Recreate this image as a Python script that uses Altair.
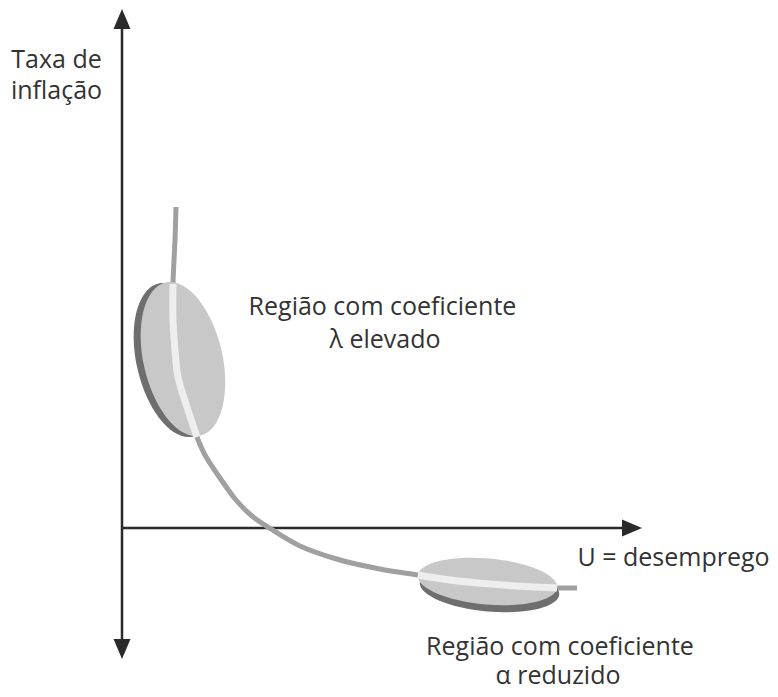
import altair as alt
import pandas as pd

# Diagram coordinates: u = unemployment (to the right), pi = inflation (up);
# origin is where the two axes cross.
curve_u = [54, 53, 51, 51, 53, 56, 65, 75, 83, 98, 114, 130, 149, 178, 218, 258, 296, 328, 368, 403, 435, 455]
curve_pi = [321, 288, 244, 208, 178, 151, 121, 91, 73, 50, 28, 12, -1, -18, -32, -41, -47, -52, -56, -58.5, -60, -60]
# part of the curve lying inside each highlighted region (index ranges into the curve)
band_ranges = [(2, 7), (16, 20)]

# centres of the two highlighted regions
region_u = [61, 365.5]
region_pi = [169, -53.5]

# axis arrow tips: up, down, right
tip_u = [0, 0, 520]
tip_pi = [519, -131, 0]

label_text = ["Taxa de", "inflação", "Região com coeficiente", "λ elevado",
              "U = desemprego", "Região com coeficiente", "α reduzido"]
label_u = [-65.5, -65.5, 260.5, 263, 551.5, 438, 436]
label_pi = [460.5, 429.5, 213, 180, -38, -127, -156]

W, H = 762, 681
xs = alt.Scale(domain=[-114, 648], nice=False, zero=False)
ys = alt.Scale(domain=[-161, 520], nice=False, zero=False)
X = alt.X("u:Q", scale=xs, axis=None)
Y = alt.Y("pi:Q", scale=ys, axis=None)

AX_COLOR = "#2a2a2a"
TXT_COLOR = "#333333"

curve = pd.DataFrame({"u": curve_u, "pi": curve_pi, "seq": range(len(curve_u))})
bands = [curve.iloc[a:b + 1] for a, b in band_ranges]
regions = pd.DataFrame({"u": region_u, "pi": region_pi})
tips = pd.DataFrame({"u": tip_u, "pi": tip_pi})
labels = pd.DataFrame({"u": label_u, "pi": label_pi, "t": label_text})

# axes lines
vaxis = alt.Chart(pd.DataFrame({"u": [0], "pi": [tip_pi[1] + 10], "pi2": [tip_pi[0] - 10]})).mark_rule(
    color=AX_COLOR, strokeWidth=2.5).encode(x=X, y=Y, y2="pi2:Q")
haxis = alt.Chart(pd.DataFrame({"u": [0], "u2": [tip_u[2] - 10], "pi": [0]})).mark_rule(
    color=AX_COLOR, strokeWidth=2.5).encode(x=X, x2="u2:Q", y=Y)

arrow_paths = ["M0,0 L-0.85,2 L0.85,2 Z", "M0,0 L-0.85,-2 L0.85,-2 Z", "M0,0 L-2,-0.85 L-2,0.85 Z"]
arrows = [
    alt.Chart(tips.iloc[[i]]).mark_point(shape=p, size=400, filled=True, fill=AX_COLOR,
                                          opacity=1, strokeWidth=0).encode(x=X, y=Y)
    for i, p in enumerate(arrow_paths)
]


def ellipse_path(r):
    k = 0.5523
    return (f"M -1 0 C -1 {-k*r:.4f} {-k:.4f} {-r:.4f} 0 {-r:.4f} "
            f"C {k:.4f} {-r:.4f} 1 {-k*r:.4f} 1 0 "
            f"C 1 {k*r:.4f} {k:.4f} {r:.4f} 0 {r:.4f} "
            f"C {-k:.4f} {r:.4f} -1 {k*r:.4f} -1 0 Z")


# region shapes: (axis ratio, size, angle, shadow offset)
region_style = [
    (0.503, 157 ** 2, 77.2, (-7, 1)),
    (0.33, 140 ** 2, 5.0, (2, 7)),
]

line_curve = alt.Chart(curve).mark_line(color="#a0a0a0", strokeWidth=5, interpolate="catmull-rom").encode(
    x=X, y=Y, order="seq:Q")

layers = [vaxis, haxis] + arrows + [line_curve]
for i, (r, sz, ang, (dx, dy)) in enumerate(region_style):
    d = regions.iloc[[i]]
    path = ellipse_path(r)
    shadow = alt.Chart(d).mark_point(shape=path, size=sz, angle=ang, filled=True, fill="#6e6e6e",
                                     opacity=1, strokeWidth=0, xOffset=dx, yOffset=dy).encode(x=X, y=Y)
    body = alt.Chart(d).mark_point(shape=path, size=sz, angle=ang, filled=True, fill="#c8c8c8",
                                   opacity=1, strokeWidth=0).encode(x=X, y=Y)
    band = alt.Chart(bands[i]).mark_line(color="#eeeeee", strokeWidth=7, interpolate="catmull-rom").encode(
        x=X, y=Y, order="seq:Q")
    layers += [shadow, body, band]

text = alt.Chart(labels).mark_text(font="Open Sans", fontSize=25, color=TXT_COLOR, align="center",
                                   baseline="alphabetic").encode(x=X, y=Y, text="t:N")
layers.append(text)

chart = alt.layer(*layers).properties(
    width=W, height=H, padding=0, autosize=alt.AutoSizeParams(type="none"), background="white"
).configure_view(stroke=None)

chart.save("out.html", embed_options={"renderer": "svg", "actions": False})
